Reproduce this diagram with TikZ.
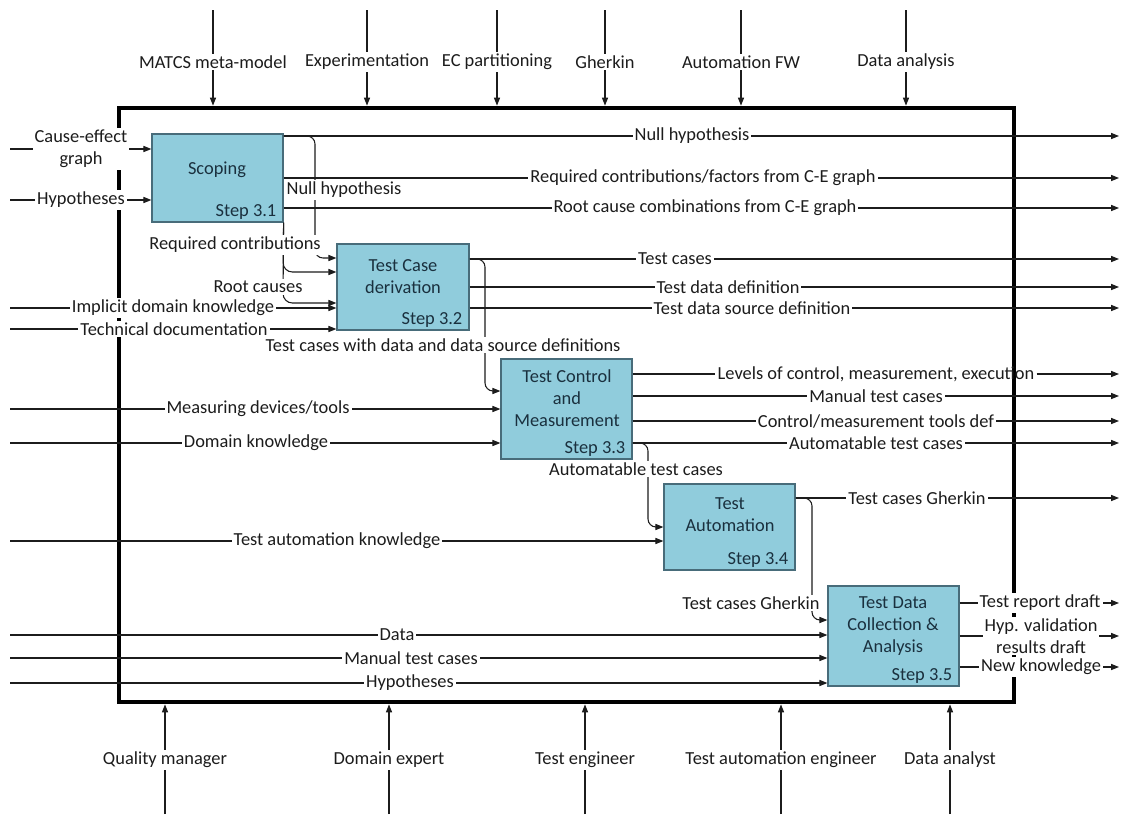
\documentclass[tikz,border=0pt]{standalone}
\usepackage{fontspec}
\setmainfont{Carlito}
\usetikzlibrary{arrows.meta,calc,fit}

\definecolor{boxfill}{RGB}{144,204,220}
\definecolor{boxedge}{RGB}{72,108,122}
\definecolor{ink}{RGB}{28,28,28}
\definecolor{boxink}{RGB}{26,48,62}

\begin{document}
\begin{tikzpicture}[x=0.75pt,y=-0.75pt,
  every node/.style={font=\fontsize{13.8}{16.5}\selectfont, text=ink},
  flow/.style={draw=ink, line width=0.8pt},
  arr/.style={flow, -{Triangle[length=6pt,width=4.6pt]}},
  lab/.style={fill=white, inner sep=1.5pt, align=center},
  plainlab/.style={inner sep=1.5pt, align=center},
  procbox/.style={draw=boxedge, fill=boxfill, line width=0.9pt, inner sep=0pt},
  boxtitle/.style={align=center, text=boxink, inner sep=0pt},
  steplab/.style={text=boxink, inner sep=0pt, anchor=south east},
  frame/.style={draw=black, line width=3.6pt, inner sep=0pt},
]
\useasboundingbox (0,0) rectangle (1121,814);

% free ends of the connectors
\coordinate (inL) at (10,0);
\coordinate (outR) at (1119,0);
\coordinate (ctlT) at (0,10);
\coordinate (mecB) at (0,814);

% activity boxes
\node[procbox, fit={(152,134)(283,222)}] (s1) {};
\node[procbox, fit={(337,244)(469,330)}] (s2) {};
\node[procbox, fit={(501,359)(632,459)}] (s3) {};
\node[procbox, fit={(664,484)(795,570)}] (s4) {};
\node[procbox, fit={(828,586)(959,686)}] (s5) {};

\node[boxtitle] (s1t) at (217,170) {Scoping};
\node[boxtitle] (s2t) at (403,277) {Test Case\\derivation};
\node[boxtitle] (s3t) at (567,398) {Test Control\\and\\Measurement};
\node[boxtitle] (s4t) at (730,515) {Test\\Automation};
\node[boxtitle] (s5t) at (893,626) {Test Data\\Collection \&\\Analysis};

\node[steplab] (s1n) at ($(s1.south east)+(-7,-3)$) {Step 3.1};
\node[steplab] (s2n) at ($(s2.south east)+(-7,-3)$) {Step 3.2};
\node[steplab] (s3n) at ($(s3.south east)+(-7,-3)$) {Step 3.3};
\node[steplab] (s4n) at ($(s4.south east)+(-7,-3)$) {Step 3.4};
\node[steplab] (s5n) at ($(s5.south east)+(-7,-3)$) {Step 3.5};

% system boundary
\node[frame, fit={(119,108)(1014,702)}] (fr) {};

% controls from above
\foreach \n/\x in {c1/213,c2/367,c3/497,c4/605,c5/741,c6/906}
  \coordinate (\n) at (\x,62);
\foreach \n in {c1,c2,c3,c4,c5,c6}
  \draw[arr] (\n|-ctlT) -- (\n|-fr.north);

% mechanisms from below
\foreach \n/\x in {m1/165,m2/389,m3/585,m4/781,m5/950}
  \coordinate (\n) at (\x,760);
\foreach \n in {m1,m2,m3,m4,m5}
  \draw[arr] (\n|-mecB) -- (\n|-fr.south);

% inputs from the left
\draw[arr] (inL|-0,149) -- (s1.west|-0,149);
\draw[arr] (inL|-0,200) -- (s1.west|-0,200);
\draw[arr] (inL|-0,308) -- (s2.west|-0,308);
\draw[arr] (inL|-0,329) -- (s2.west|-0,329);
\draw[arr] (inL|-0,409) -- (s3.west|-0,409);
\draw[arr] (inL|-0,443) -- (s3.west|-0,443);
\draw[arr] (inL|-0,541) -- (s4.west|-0,541);
\draw[arr] (inL|-0,635) -- (s5.west|-0,635);
\draw[arr] (inL|-0,658) -- (s5.west|-0,658);
\draw[arr] (inL|-0,683) -- (s5.west|-0,683);

% outputs to the right
\draw[arr] (s1.east|-0,136) -- (outR|-0,136);
\draw[arr] (s1.east|-0,178) -- (outR|-0,178);
\draw[arr] (s1.east|-0,208) -- (outR|-0,208);
\draw[arr] (s2.east|-0,259) -- (outR|-0,259);
\draw[arr] (s2.east|-0,287) -- (outR|-0,287);
\draw[arr] (s2.east|-0,308) -- (outR|-0,308);
\draw[arr] (s3.east|-0,396) -- (outR|-0,396);
\draw[arr] (s3.east|-0,421) -- (outR|-0,421);
\draw[arr] (s3.east|-0,443) -- (outR|-0,443);
\draw[arr] (s4.east|-0,498) -- (outR|-0,498);
\draw[arr] (s5.east|-0,603) -- (outR|-0,603);
\draw[arr] (s5.east|-0,636) -- (outR|-0,636);
\draw[arr] (s5.east|-0,667) -- (outR|-0,667);

% flows between the steps
\draw[arr, rounded corners=6pt] (s1.east|-0,136) -- (315,136) -- (315,258) -- (s2.west|-0,258);
\draw[arr, rounded corners=7pt] (s1.south east) -- (283,272) -- (s2.west|-0,272);
\draw[arr, rounded corners=7pt] (s1.south east) -- (283,303) -- (s2.west|-0,303);
\draw[arr, rounded corners=6pt] (s2.east|-0,259) -- (485,259) -- (485,391) -- (s3.west|-0,391);
\draw[arr, rounded corners=6pt] (s3.east|-0,443) -- (648,443) -- (648,527) -- (s4.west|-0,527);
\draw[arr, rounded corners=6pt] (s4.east|-0,498) -- (812,498) -- (812,620) -- (s5.west|-0,620);

% output that the boundary line runs through
\node[plainlab] (olev) at (876,374) {Levels of control, measurement, execution};
\draw[flow] (s3.east|-olev) -- (olev.west);
\draw[arr] (olev.east) -- (outR|-olev);

% labels
\node[lab] (lc1) at (c1) {MATCS meta-model};
\node[lab] (lc2) at (c2) {Experimentation};
\node[lab] (lc3) at (c3) {EC partitioning};
\node[lab] (lc4) at (c4) {Gherkin};
\node[lab] (lc5) at (c5) {Automation FW};
\node[lab] (lc6) at (c6) {Data analysis};

\node[lab] (lm1) at (m1) {Quality manager};
\node[lab] (lm2) at (m2) {Domain expert};
\node[lab] (lm3) at (m3) {Test engineer};
\node[lab] (lm4) at (m4) {Test automation engineer};
\node[lab] (lm5) at (m5) {Data analyst};

\node[lab] (lce) at (81,149) {Cause-effect\\graph};
\node[lab] (lhy1) at (81,200) {Hypotheses};
\node[lab] (lidk) at (173,308) {Implicit domain knowledge};
\node[lab] (ltd) at (174,329) {Technical documentation};
\node[lab] (lmd) at (258,409) {Measuring devices/tools};
\node[lab] (ldk) at (256,443) {Domain knowledge};
\node[lab] (ltak) at (337,541) {Test automation knowledge};
\node[lab] (ldata) at (397,635) {Data};
\node[lab] (lmtc) at (411,658) {Manual test cases};
\node[lab] (lhy2) at (410,683) {Hypotheses};

\node[lab] (lnh) at (344,190) {Null hypothesis};
\node[lab] (lrc) at (235,245) {Required contributions};
\node[lab] (lrt) at (258,287) {Root causes};
\node[lab] (ltcd) at (443,345) {Test cases with data and data source definitions};
\node[lab] (latc) at (636,469) {Automatable test cases};
\node[lab] (ltcg) at (751,603) {Test cases Gherkin};

\node[lab] (onh) at (692,136) {Null hypothesis};
\node[lab] (orc) at (703,178) {Required contributions/factors from C-E graph};
\node[lab] (orcc) at (705,208) {Root cause combinations from C-E graph};
\node[lab] (otc) at (675,259) {Test cases};
\node[lab] (otdd) at (728,287) {Test data definition};
\node[lab] (otdsd) at (752,308) {Test data source definition};
\node[lab] (omtc) at (876,396) {Manual test cases};
\node[lab] (ocm) at (876,421) {Control/measurement tools def};
\node[lab] (oatc) at (876,443) {Automatable test cases};
\node[lab] (otcg) at (917,498) {Test cases Gherkin};
\node[lab] (otrd) at (1040,603) {Test report draft};
\node[lab] (ohyp) at (1041,636) {Hyp. validation\\results draft};
\node[lab] (onk) at (1041,667) {New knowledge};
\end{tikzpicture}
\end{document}
